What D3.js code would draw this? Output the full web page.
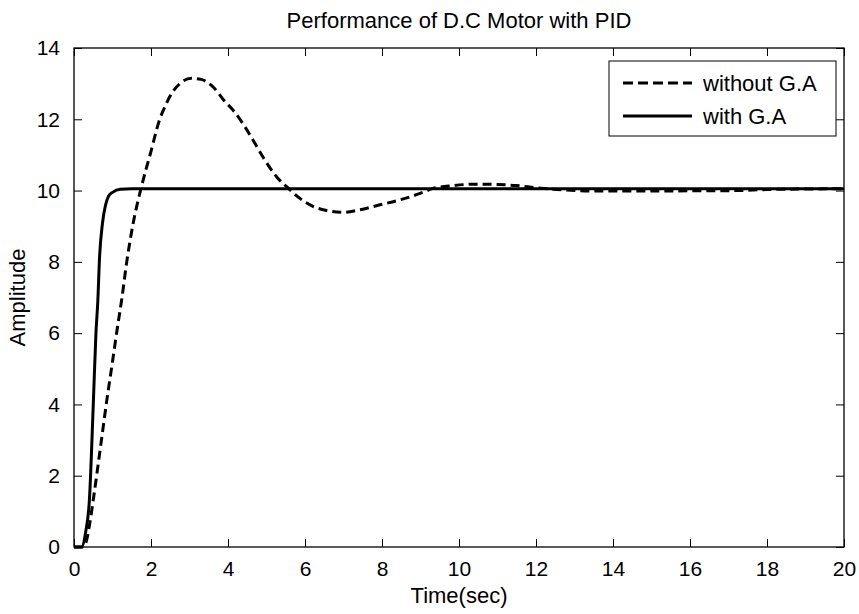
<!DOCTYPE html>
<html>
<head>
<meta charset="utf-8">
<script src="https://cdn.jsdelivr.net/npm/d3@7"></script>
<style>
    body { margin: 0; background: #fff; }
    svg { display: block; font-family: "Liberation Sans", Arial, sans-serif; }
</style>
</head>
<body>
<div id="chart"></div>
<script>
// Step response without G.A (dashed)
const timeWithout = [0, 0.2, 0.3, 0.4, 0.5, 0.7, 0.85, 1.0, 1.12, 1.24, 1.37, 1.54, 1.75, 2.0, 2.22, 2.36, 2.54, 2.75, 3.05, 3.3, 3.62, 3.88, 4.16, 4.44, 4.66, 4.92, 5.26, 5.57, 5.87, 6.22, 6.56, 7.0, 7.43, 7.95, 8.47, 8.99, 9.33, 9.84, 10.46, 11.0, 11.5, 12.0, 12.7, 13.5, 15, 17.2, 18, 20];
const ampWithout = [0, 0, 0.1, 0.6, 1.32, 2.9, 4.1, 5.2, 6.1, 6.95, 8.0, 9.1, 10.1, 11.1, 11.98, 12.35, 12.73, 13.0, 13.15, 13.12, 12.9, 12.55, 12.22, 11.79, 11.4, 10.92, 10.39, 10.06, 9.78, 9.55, 9.44, 9.39, 9.46, 9.6, 9.74, 9.92, 10.06, 10.14, 10.18, 10.17, 10.14, 10.08, 10.02, 9.99, 9.99, 10.0, 10.03, 10.05];

// Step response with G.A (solid)
const timeWith = [0, 0.2, 0.3, 0.4, 0.5, 0.57, 0.62, 0.66, 0.74, 0.82, 0.9, 1.0, 1.2, 1.5, 20];
const ampWith = [0, 0, 0.4, 1.32, 3.98, 6.0, 6.93, 8.05, 9.09, 9.6, 9.85, 9.95, 10.04, 10.05, 10.05];

const xTicks = [0, 2, 4, 6, 8, 10, 12, 14, 16, 18, 20];
const yTicks = [0, 2, 4, 6, 8, 10, 12, 14];
const seriesNames = ['without G.A', 'with G.A'];

const width = 859;
const height = 614;
const margin = { top: 48, right: 15, bottom: 67, left: 74 };
const innerW = width - margin.left - margin.right;
const innerH = height - margin.top - margin.bottom;

const svg = d3.select('#chart')
    .append('svg')
    .attr('width', width)
    .attr('height', height);

const g = svg.append('g')
    .attr('transform', `translate(${margin.left},${margin.top})`);

// Scales
const x = d3.scaleLinear().domain([0, 20]).range([0, innerW]);
const y = d3.scaleLinear().domain([0, 14]).range([innerH, 0]);

// Axes (ticks pointing inward, box on all sides)
const tickLen = 8;
const styleAxis = sel => {
    sel.select('.domain').remove();
    sel.selectAll('line').attr('stroke', '#000').attr('stroke-width', 1);
    sel.selectAll('text').attr('font-size', 21).attr('fill', '#000');
};

g.append('g')
    .attr('transform', `translate(0,${innerH})`)
    .call(d3.axisBottom(x).tickValues(xTicks).tickSize(-tickLen).tickPadding(14).tickFormat(d3.format('d')))
    .call(styleAxis);

g.append('g')
    .call(d3.axisTop(x).tickValues(xTicks).tickSize(-tickLen).tickFormat(''))
    .call(styleAxis);

g.append('g')
    .call(d3.axisLeft(y).tickValues(yTicks).tickSize(-tickLen).tickPadding(14).tickFormat(d3.format('d')))
    .call(styleAxis);

g.append('g')
    .attr('transform', `translate(${innerW},0)`)
    .call(d3.axisRight(y).tickValues(yTicks).tickSize(-tickLen).tickFormat(''))
    .call(styleAxis);

// Plot box
g.append('rect')
    .attr('width', innerW)
    .attr('height', innerH)
    .attr('fill', 'none')
    .attr('stroke', '#000')
    .attr('stroke-width', 1.3);

// Lines
const line = d3.line()
    .x(d => x(d[0]))
    .y(d => y(d[1]))
    .curve(d3.curveMonotoneX);

const without = timeWithout.map((t, i) => [t, ampWithout[i]]);
const withGA = timeWith.map((t, i) => [t, ampWith[i]]);

g.append('path')
    .datum(withGA)
    .attr('d', line)
    .attr('fill', 'none')
    .attr('stroke', '#000')
    .attr('stroke-width', 3);

g.append('path')
    .datum(without)
    .attr('d', line)
    .attr('fill', 'none')
    .attr('stroke', '#000')
    .attr('stroke-width', 3)
    .attr('stroke-dasharray', '9,5');

// Title and axis labels
svg.append('text')
    .attr('x', margin.left + innerW / 2)
    .attr('y', 28)
    .attr('text-anchor', 'middle')
    .attr('font-size', 22)
    .text('Performance of D.C Motor with PID');

svg.append('text')
    .attr('x', margin.left + innerW / 2)
    .attr('y', 603)
    .attr('text-anchor', 'middle')
    .attr('font-size', 22)
    .text('Time(sec)');

svg.append('text')
    .attr('transform', `translate(25,${margin.top + innerH / 2}) rotate(-90)`)
    .attr('text-anchor', 'middle')
    .attr('font-size', 22)
    .text('Amplitude');

// Legend
const legend = svg.append('g')
    .attr('transform', 'translate(609,61)');

legend.append('rect')
    .attr('width', 227)
    .attr('height', 75)
    .attr('fill', '#fff')
    .attr('stroke', '#000')
    .attr('stroke-width', 1);

seriesNames.forEach((name, i) => {
    const ly = 22 + i * 33;
    legend.append('line')
        .attr('x1', 14)
        .attr('x2', 83)
        .attr('y1', ly)
        .attr('y2', ly)
        .attr('stroke', '#000')
        .attr('stroke-width', 3)
        .attr('stroke-dasharray', i === 0 ? '10,5' : null);
    legend.append('text')
        .attr('x', 94)
        .attr('y', ly + 8)
        .attr('font-size', 22)
        .text(name);
});
</script>
</body>
</html>
